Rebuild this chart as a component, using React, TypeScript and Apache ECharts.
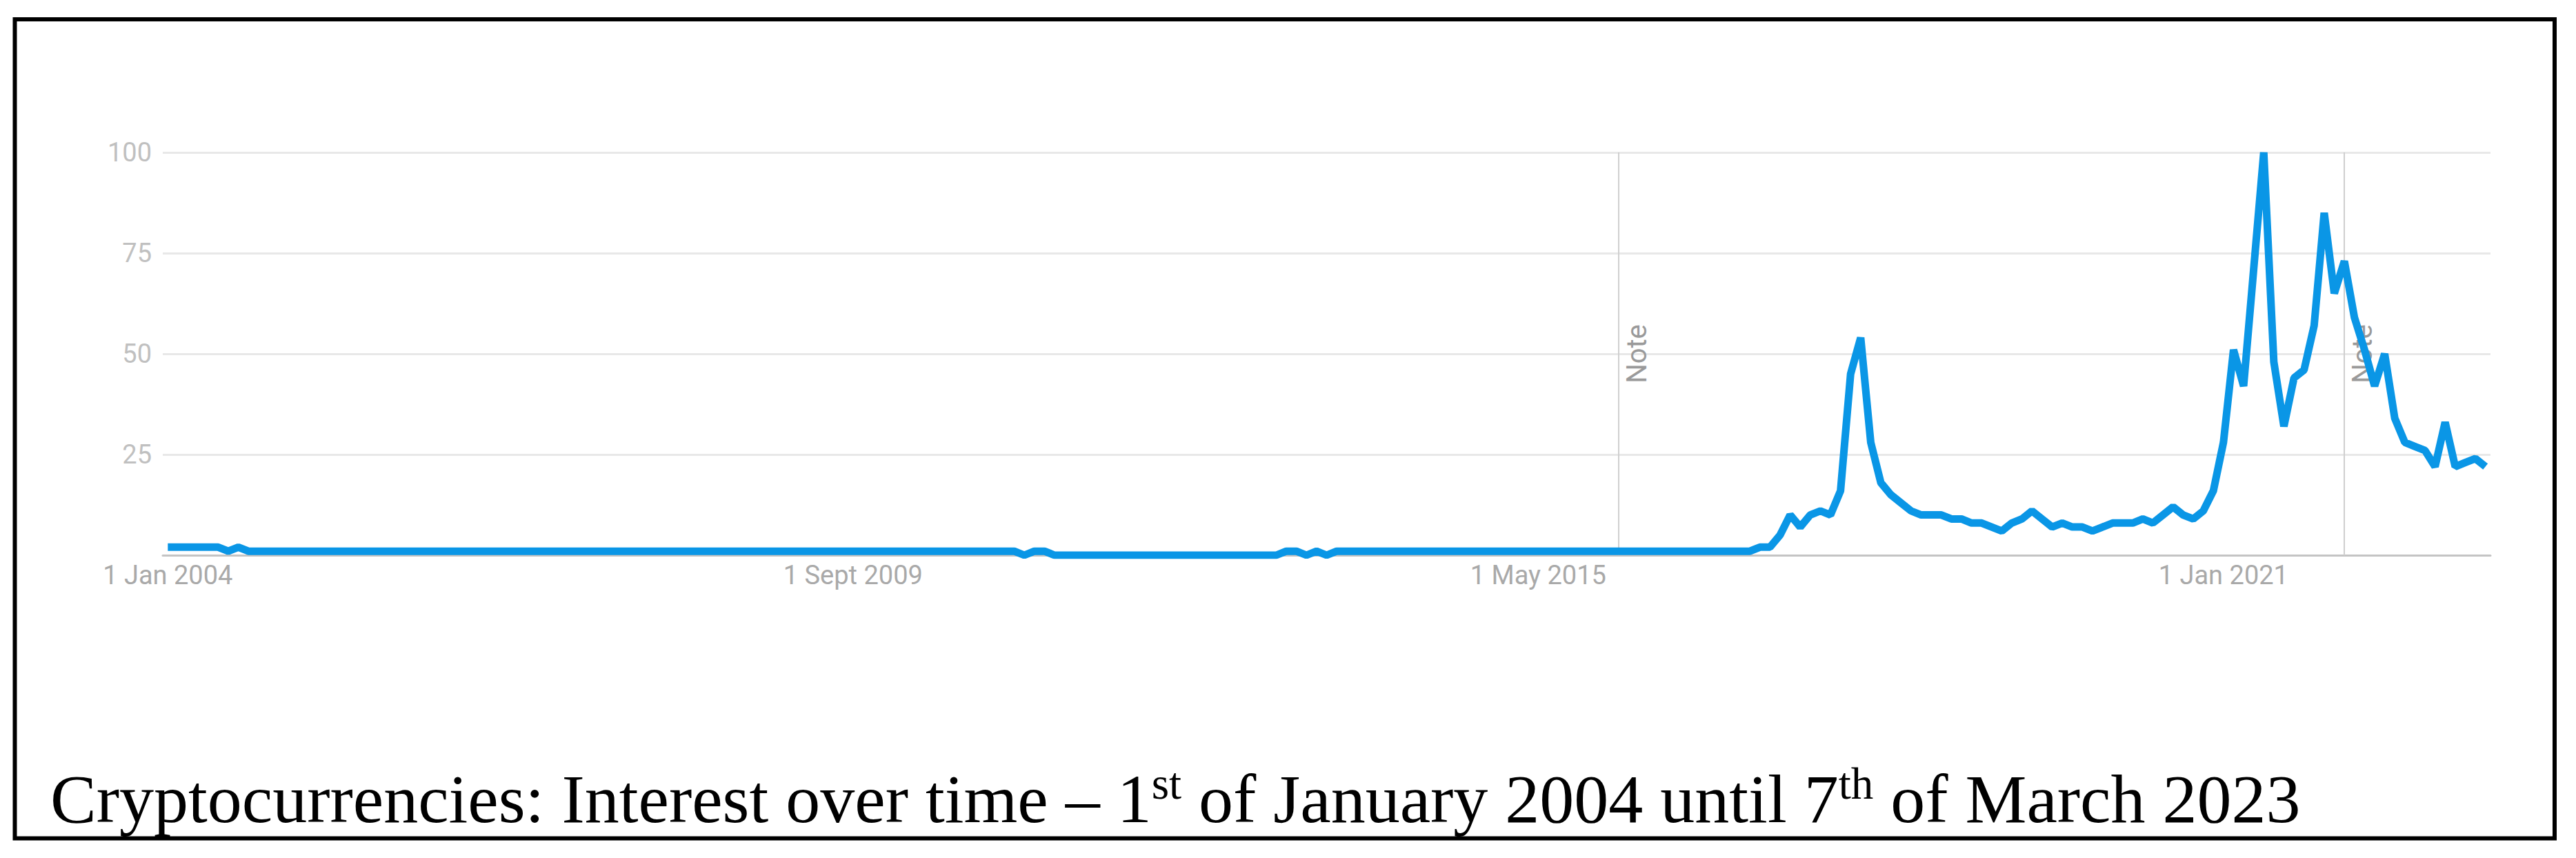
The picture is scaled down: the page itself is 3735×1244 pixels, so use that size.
import React, { useEffect, useRef } from "react";
import * as echarts from "echarts";

// ---- data ----
const START_YEAR = 2004;
const MONTH_COUNT = 231; // Jan 2004 .. Mar 2023

const categories: string[] = [];
for (let i = 0; i < MONTH_COUNT; i++) {
  const y = START_YEAR + Math.floor(i / 12);
  const m = (i % 12) + 1;
  categories.push(`${y}-${String(m).padStart(2, "0")}`);
}

// Google Trends interest (0-100), one value per month
const interest: number[] = [
  2, 2, 2, 2, 2, 2, 1, 2, 1, 1, // 2004
  1, 1, 1, 1, 1, 1, 1, 1, 1, 1,
  1, 1, 1, 1, 1, 1, 1, 1, 1, 1,
  1, 1, 1, 1, 1, 1, 1, 1, 1, 1,
  1, 1, 1, 1, 1, 1, 1, 1, 1, 1,
  1, 1, 1, 1, 1, 1, 1, 1, 1, 1,
  1, 1, 1, 1, 1, 1, 1, 1, 1, 1,
  1, 1, 1, 1, 1, 1, 1, 1, 1, 1,
  1, 1, 1, 1, 1, 0, 1, 1, 0, 0,
  0, 0, 0, 0, 0, 0, 0, 0, 0, 0,
  0, 0, 0, 0, 0, 0, 0, 0, 0, 0,
  0, 1, 1, 0, 1, 0, 1, 1, 1, 1,
  1, 1, 1, 1, 1, 1, 1, 1, 1, 1,
  1, 1, 1, 1, 1, 1, 1, 1, 1, 1,
  1, 1, 1, 1, 1, 1, 1, 1, 1, 1,
  1, 1, 1, 1, 1, 1, 1, 1, 2, 2,
  5, 10, 7, 10, 11, 10, 16, 45, 54, 28,
  18, 15, 13, 11, 10, 10, 10, 9, 9, 8,
  8, 7, 6, 8, 9, 11, 9, 7, 8, 7,
  7, 6, 7, 8, 8, 8, 9, 8, 10, 12,
  10, 9, 11, 16, 28, 51, 42, 71, 100, 48,
  32, 44, 46, 57, 85, 65, 73, 59, 51, 42,
  50, 34, 28, 27, 26, 22, 33, 22, 23, 24,
  22,
];

const tickCategories = ["2004-01", "2009-09", "2015-05", "2021-01"];
const tickLabels = ["1 Jan 2004", "1 Sept 2009", "1 May 2015", "1 Jan 2021"];
const yMin = 0;
const yMax = 100;
const yStep = 25;
const noteCategories = ["2016-01", "2022-01"];
const noteText = "Note";
const captionText =
  "{m|Cryptocurrencies: Interest over time – 1}{s|st}{m| of January 2004 until 7}{s|th}{m| of March 2023}";

export default function App() {
  const ref = useRef<HTMLDivElement>(null);

  useEffect(() => {
    if (!ref.current) return;
    const chart = echarts.init(ref.current, null, { renderer: "svg" });
    const option: any = {
      animation: false,
      backgroundColor: "#ffffff",
      grid: { left: 236, right: 124, top: 221, bottom: 439, containLabel: false },
      xAxis: {
        type: "category",
        data: categories,
        boundaryGap: true,
        axisLine: { show: true, lineStyle: { color: "#c4c4c4", width: 3 } },
        axisTick: { show: false },
        splitLine: { show: false },
        axisLabel: {
          interval: (_i: number, v: string) => tickCategories.includes(v),
          formatter: (v: string) => {
            const k = tickCategories.indexOf(v);
            return k >= 0 ? tickLabels[k] : "";
          },
          color: "#a9a9a9",
          fontFamily: "Roboto",
          fontSize: 38,
          margin: 10,
        },
      },
      yAxis: {
        type: "value",
        min: yMin,
        max: yMax,
        interval: yStep,
        axisLine: { show: false },
        axisTick: { show: false },
        axisLabel: {
          formatter: (v: number) => (v === 0 ? "" : String(v)),
          color: "#c0c0c0",
          fontFamily: "Roboto",
          fontSize: 38,
          margin: 16,
        },
        splitLine: { lineStyle: { color: "#e8e8e8", width: 3 } },
      },
      series: [
        {
          type: "line",
          data: interest,
          symbol: "none",
          showSymbol: false,
          lineStyle: { color: "#0a96e6", width: 11, join: "bevel" },
          itemStyle: { color: "#0a96e6" },
          z: 3,
          markLine: {
            silent: true,
            z: 1,
            symbol: ["none", "none"],
            lineStyle: { color: "#cfcfcf", width: 2, type: "solid" },
            label: {
              show: true,
              formatter: noteText,
              position: "insideMiddleBottom",
              distance: 6,
              color: "#9a9a9a",
              fontFamily: "Roboto",
              fontSize: 40,
            },
            data: noteCategories.map((c) => ({ xAxis: c })),
          },
        },
      ],
      graphic: [
        {
          type: "rect",
          silent: true,
          shape: { x: 21.5, y: 28, width: 3704 - 21.5, height: 1215.5 - 28 },
          style: { fill: "none", stroke: "#000000", lineWidth: 6 },
          z: 10,
        },
        {
          type: "text",
          silent: true,
          x: 73,
          y: 1103,
          style: {
            text: captionText,
            verticalAlign: "top",
            align: "left",
            fill: "#000000",
            fontFamily: "'Liberation Serif', 'Times New Roman', serif",
            fontSize: 100,
            rich: {
              m: {
                fill: "#000000",
                fontFamily: "'Liberation Serif', 'Times New Roman', serif",
                fontSize: 100,
                lineHeight: 110,
              },
              s: {
                fill: "#000000",
                fontFamily: "'Liberation Serif', 'Times New Roman', serif",
                fontSize: 65,
                lineHeight: 60,
                verticalAlign: "top",
              },
            },
          },
          z: 10,
        },
      ],
    };
    chart.setOption(option);
    return () => chart.dispose();
  }, []);

  return (
    <div
      ref={ref}
      style={{ position: "absolute", left: 0, top: 0, width: 3735, height: 1244 }}
    />
  );
}
